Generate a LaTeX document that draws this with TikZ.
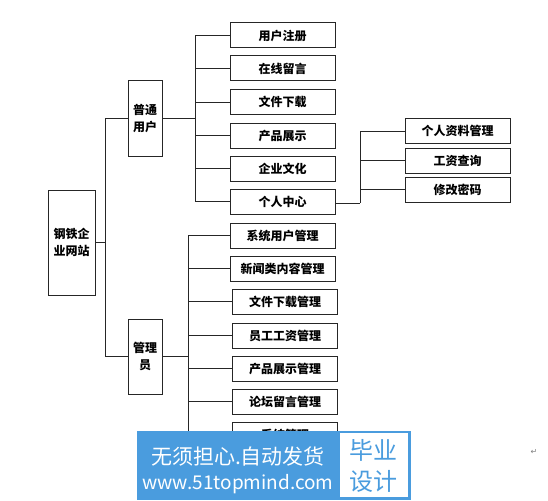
\documentclass[tikz,border=0pt]{standalone}
\usepackage{fontspec}
\newfontfamily\cjk{Noto Sans CJK SC}
\newfontfamily\sym{DejaVu Sans}
\definecolor{wmblue}{RGB}{74,156,222}
\begin{document}
\begin{tikzpicture}[x=1pt,y=-1pt,
  box/.style={draw=black!85, line width=1pt, inner sep=0pt, align=center,
    font=\cjk\bfseries\fontsize{12}{16.5}\selectfont},
  leaf/.style={box, minimum width=105pt, minimum height=25pt},
  tall/.style={box, minimum width=34pt, minimum height=75pt},
  conn/.style={line width=0.8pt, draw=black!85}]
\useasboundingbox (0,0) rectangle (548,500);
% root
\node[box, minimum width=47pt, minimum height=105pt] (root) at (71.5,242.5) {钢铁企\\业网站};
\node[tall] (user) at (145,118.5) {普通\\用户};
\node[tall] (admin) at (145,356.5) {管理\\员};
% user children
\node[leaf] (u1) at (282.5,35.5) {用户注册};
\node[leaf] (u2) at (282.5,68.5) {在线留言};
\node[leaf] (u3) at (282.5,102) {文件下载};
\node[leaf] (u4) at (282.5,135.5) {产品展示};
\node[leaf] (u5) at (282.5,168.5) {企业文化};
\node[leaf] (u6) at (282.5,201.5) {个人中心};
% personal center children
\node[leaf] (p1) at (457.5,131) {个人资料管理};
\node[leaf] (p2) at (457.5,160.5) {工资查询};
\node[leaf] (p3) at (457.5,189.5) {修改密码};
% admin children
\node[leaf] (a1) at (282.5,235.5) {系统用户管理};
\node[leaf] (a2) at (282.5,268.5) {新闻类内容管理};
\node[leaf] (a3) at (285,301.5) {文件下载管理};
\node[leaf] (a4) at (285,335.5) {员工工资管理};
\node[leaf] (a5) at (285,368.5) {产品展示管理};
\node[leaf] (a6) at (285,401.5) {论坛留言管理};
\node[leaf] (a7) at (285,435) {系统管理};
% junctions
\coordinate (jr) at (105,242.5);
\coordinate (ju) at (195,118.5);
\coordinate (jp) at (360,203);
\coordinate (ja) at (188,356.5);
% root connectors
\draw[conn] (root.east) -- (jr);
\draw[conn] (user.west) -- (user.west -| jr) -- (admin.west -| jr) -- (admin.west);
% user connectors
\draw[conn] (user.east) -- (ju);
\draw[conn] (u1.west -| ju) -- (u6.west -| ju);
\foreach \n in {u1,u2,u3,u4,u5,u6} \draw[conn] (\n.west) -- (\n.west -| ju);
% personal center connectors
\draw[conn] (u6.east |- jp) -- (jp);
\draw[conn] (p1.west -| jp) -- (jp);
\foreach \n in {p1,p2,p3} \draw[conn] (\n.west) -- (\n.west -| jp);
% admin connectors
\draw[conn] (admin.east) -- (ja);
\draw[conn] (a1.west -| ja) -- (a7.west -| ja);
\foreach \n in {a1,a2,a3,a4,a5,a6,a7} \draw[conn] (\n.west) -- (\n.west -| ja);
% watermark
\fill[wmblue] (137,431) rectangle (411,500);
\fill[white] (340,433) rectangle (408,497);
\node[text=white, font=\cjk\fontsize{21}{21}\selectfont, inner sep=0pt] (wm1) at (238,456) {无须担心.自动发货};
\node[text=white, font=\cjk\fontsize{19}{19}\selectfont, inner sep=0pt] (wm2) at (238,484) {www.51topmind.com};
\node[text=wmblue, font=\cjk\fontsize{24}{24}\selectfont, inner sep=0pt] (wm3) at (373,450) {毕业};
\node[text=wmblue, font=\cjk\fontsize{24}{24}\selectfont, inner sep=0pt] (wm4) at (373,481) {设计};
\node[text=black!50, font=\sym\fontsize{8}{8}\selectfont, inner sep=0pt] (ret) at (534,452) {↵};
\end{tikzpicture}
\end{document}
